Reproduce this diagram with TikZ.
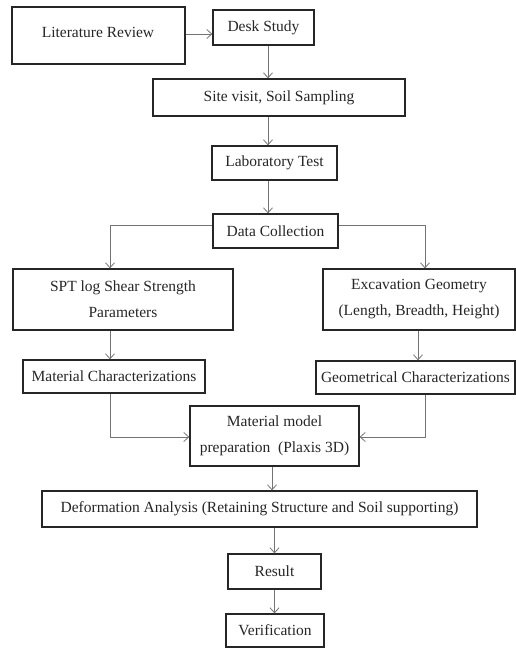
\documentclass[tikz,border=0pt]{standalone}
\usepackage{fontspec}
\setmainfont{Liberation Serif}
\usetikzlibrary{arrows.meta}
\begin{document}
\begin{tikzpicture}[x=1pt,y=-1pt,
  box/.style={draw=black!85,line width=1.3pt,rectangle,inner sep=0pt,align=center,
    font=\fontsize{15.5}{26}\selectfont,text=black!85},
  txt/.style={inner sep=0pt,align=center,font=\fontsize{15.5}{26}\selectfont,text=black!85},
  arr/.style={draw=black!55,line width=0.8pt,-{Straight Barb[length=5pt,width=9pt]}},
  ln/.style={draw=black!55,line width=0.8pt}]
\useasboundingbox (0,0) rectangle (516,648);
\node[box,minimum width=173,minimum height=57] (lit) at (98.5,35.5) {};
\node[txt] (littxt) at (98,32) {Literature Review};
\node[box,minimum width=101,minimum height=35] (desk) at (263.5,27.5) {Desk Study};
\node[box,minimum width=252,minimum height=37] (site) at (279,97.5) {Site visit, Soil Sampling};
\node[box,minimum width=125,minimum height=34] (lab) at (274.5,163) {Laboratory Test};
\node[box,minimum width=125,minimum height=34] (data) at (275.5,231) {Data Collection};
\node[box,minimum width=220,minimum height=61] (spt) at (123,299.5) {SPT log Shear Strength\\Parameters};
\node[box,minimum width=192,minimum height=61] (exc) at (419,299.5) {Excavation Geometry\\(Length, Breadth, Height)};
\node[box,minimum width=182,minimum height=33] (matc) at (114,376.5) {Material Characterizations};
\node[box,minimum width=199,minimum height=33] (geoc) at (415.5,377.5) {Geometrical Characterizations};
\node[box,minimum width=169,minimum height=60] (mm) at (274.5,436) {Material model\\preparation\ \ (Plaxis 3D)};
\node[box,minimum width=435,minimum height=36] (def) at (259.5,509) {Deformation Analysis (Retaining Structure and Soil supporting)};
\node[box,minimum width=93,minimum height=35] (res) at (274.5,571.5) {Result};
\node[box,minimum width=98,minimum height=33] (ver) at (275,630.5) {Verification};

\draw[arr] ([yshift=1.5pt]lit.east) -- ([yshift=1.5pt]lit.east -| desk.west);
\draw[arr] ([xshift=4.5pt]desk.south) -- ([xshift=4.5pt]desk.south |- site.north);
\draw[arr] ([xshift=-6.5pt]lab.north |- site.south) -- ([xshift=-6.5pt]lab.north);
\draw[arr] ([xshift=-6.5pt]lab.south) -- ([xshift=-6.5pt]lab.south |- data.north);
\draw[arr] ([yshift=6pt]data.west) -| ([xshift=-13pt]spt.north);
\draw[arr] ([yshift=6pt]data.east) -| ([xshift=6pt]exc.north);
\draw[arr] ([xshift=-13pt]spt.south) -- ([xshift=-13pt]spt.south |- matc.north);
\draw[arr] ([xshift=-1pt]exc.south) -- ([xshift=-1pt]exc.south |- geoc.north);
\draw[arr] ([xshift=-4pt]matc.south) |- ([yshift=-1pt]mm.west);
\draw[arr] ([xshift=9.5pt]geoc.south) |- ([yshift=-1pt]mm.east);
\draw[arr] ([xshift=-2.5pt]mm.south) -- ([xshift=-2.5pt]mm.south |- def.north);
\draw[arr] (def.south -| res.north) -- (res.north);
\draw[arr] (res.south) -- (res.south |- ver.north);
\end{tikzpicture}
\end{document}
